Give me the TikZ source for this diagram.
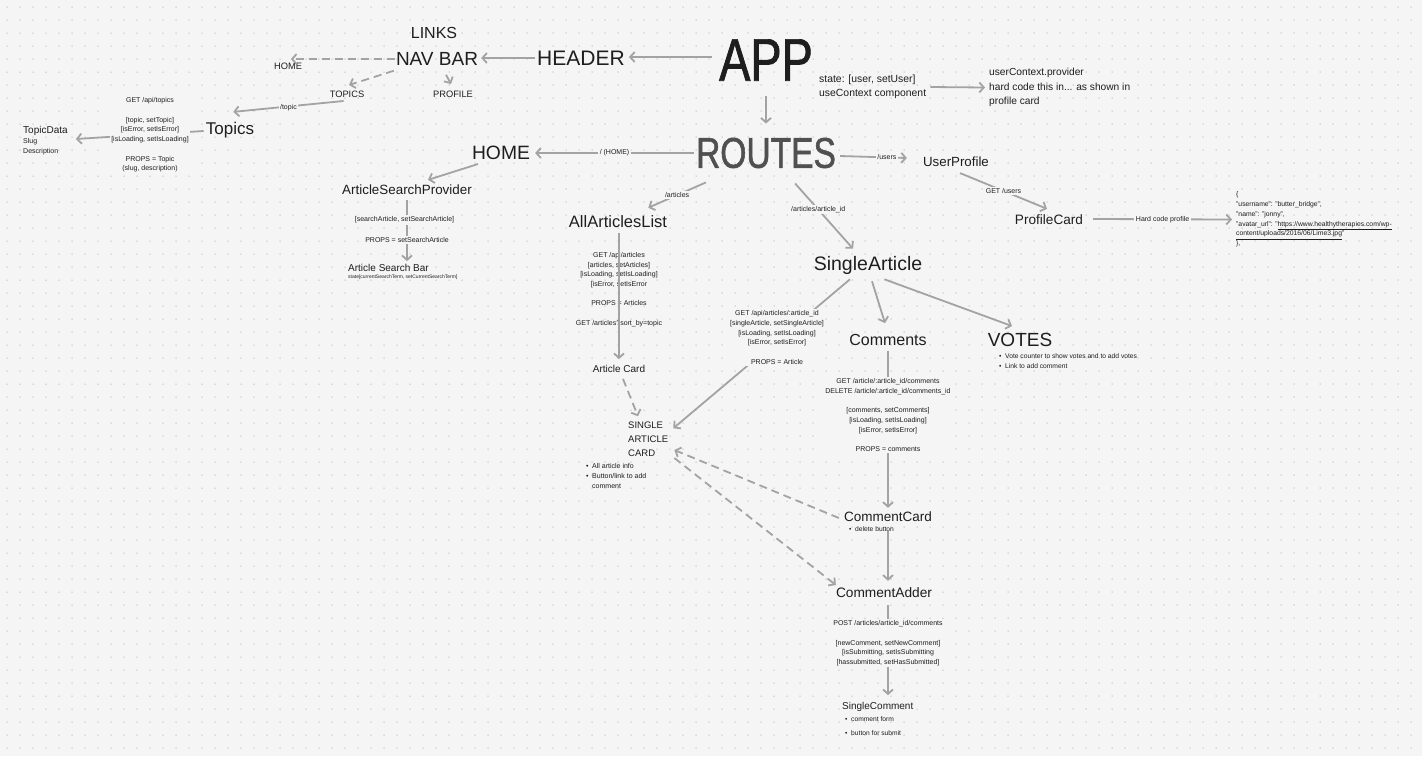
\documentclass[tikz,border=0pt]{standalone}
\usepackage{fontspec}
\setmainfont{Liberation Sans}
\newfontfamily\cond{Liberation Sans}[FakeStretch=0.78,FakeBold=1.2]
\usetikzlibrary{arrows.meta,calc}
\definecolor{bg}{HTML}{F5F5F5}
\definecolor{dotc}{HTML}{C2C2C2}
\definecolor{ln}{HTML}{A3A3A3}
\definecolor{ink}{HTML}{1E1E1E}
\definecolor{routesc}{HTML}{505050}
\newcommand\fs[2]{\fontsize{#1}{#2}\selectfont}
\newcommand\bul{\makebox[6pt][l]{\textbullet}}
\begin{document}
\begin{tikzpicture}[x=1pt,y=-1pt,
  t/.style={inner sep=0pt,text=ink,align=center},
  blk/.style={t,font=\fs{7}{9.7},fill=bg,inner sep=1.5pt},
  lbl/.style={t,font=\fs{7}{7},fill=bg,inner sep=1.5pt},
  arr/.style={draw=ln,line width=1.8pt,-{Straight Barb[length=4.5pt,width=10pt,line width=1.8pt]}},
  dsh/.style={arr,dash pattern=on 8pt off 5pt}
]
\fill[bg] (0,0) rectangle (1422,756);
\useasboundingbox (0,0) rectangle (1422,756);
\foreach \yy in {7,20,...,756}
  \draw[dotc,line width=1.5pt,line cap=round,dash pattern=on 0pt off 13pt] (7,\yy) -- (1422,\yy);

% ---- top nodes
\node[t,font=\cond\fs{60}{60}] (app) at (766,60) {APP};
\node[t,font=\fs{21}{21}] (header) at (581,58) {HEADER};
\node[t,font=\fs{19}{19}] (navbar) at (437,59) {NAV BAR};
\node[t,font=\fs{16}{16}] (links) at (434,33) {LINKS};
\node[t,font=\fs{9.3}{9.3}] (homes) at (288,66.5) {HOME};
\node[t,font=\fs{9.3}{9.3}] (topicss) at (347,94.5) {TOPICS};
\node[t,font=\fs{9.3}{9.3}] (profile) at (453,94.5) {PROFILE};
\node[t,font=\fs{17}{17}] (topics) at (230,130) {Topics};
\node[t,font=\fs{10}{10},anchor=west] (topicdata) at (23,131) {TopicData};
\node[t,font=\fs{7}{7},anchor=west] (slug) at (23,142) {Slug};
\node[t,font=\fs{7}{7},anchor=west] (desc) at (23,152) {Description};

\node[t,font=\fs{10.4}{14},align=left,anchor=west] (state) at (819,87) {state: [user, setUser]\\useContext component};
\node[t,font=\fs{10.2}{14.5},align=left,anchor=west] (uctx) at (989,87.5) {userContext.provider\\hard code this in... as shown in\\profile card};

\draw[arr] ($(app.west)+(-7,-3)$) -- ($(header.east)+(4,-1)$);
\draw[arr] ($(header.west)+(-2,0)$) -- ($(navbar.east)+(3,-1)$);
\draw[dsh] ($(navbar.west)+(-1,0)$) -- ($(homes.north west)+(17,-4)$);
\draw[dsh] ($(navbar.south west)+(-2,5)$) -- ($(topicss.north)+(2,-6)$);
\draw[dsh] ($(navbar.south)+(9,9)$) -- ($(profile.north)+(-2,-7)$);
\draw[arr] ($(topicss.south west)+(14,3)$) -- node[lbl,pos=0.5,yshift=-1.5pt] (ltopic) {/topic} ($(topics.north east)+(-21,-10)$);
\draw[arr] ($(topics.west)+(-2,1)$) -- ($(topicdata.east)+(8,8)$);
\node[blk] (gettopics) at (150,135) {GET /api/topics\\[9.7pt]{}[topic, setTopic]\\{}[isError, setIsError]\\{}[isLoading, setIsLoading]\\[9.7pt]PROPS = Topic\\(slug, description)};
\draw[arr] ($(state.east)+(4,0)$) -- ($(uctx.west)+(-4,0)$);

% ---- routes
\node[t,font=\cond\fs{43}{43},text=routesc] (routes) at (766,153) {ROUTES};
\draw[arr] ($(app.south)+(0,15)$) -- ($(routes.north)+(0,-14)$);
\node[t,font=\fs{19.3}{19.3}] (homeb) at (501,153) {HOME};
\draw[arr] ($(routes.west)+(-2,0)$) -- node[lbl] (lhome) {/ (HOME)} ($(homeb.east)+(5,0)$);

\node[t,font=\fs{13.4}{13.4}] (asp) at (407,190) {ArticleSearchProvider};
\node[t,font=\fs{10}{10},anchor=west] (asb) at (348,268) {Article Search Bar};
\node[t,font=\fs{5}{5},anchor=west] (asbstate) at (348,277) {state[currentSearchTerm, setCurrentSearchTerm]};
\draw[arr] ($(homeb.south)+(-23,4)$) -- ($(asp.north)+(21,-5)$);
\draw[arr] ($(asp.south)+(0,5)$) -- ($(asp.south |- asb.north)+(0,-3)$);
\node[blk] (sa1) at (404.5,220) {[searchArticle, setSearchArticle]};
\node[blk] (props1) at (407,240) {PROPS = setSearchArticle};

% ---- all articles
\node[t,font=\fs{16.5}{16.5}] (all) at (618,222) {AllArticlesList};
\node[t,font=\fs{10}{10}] (acard) at (619,369) {Article Card};
\node[t,font=\fs{7}{9.7}] (allblk) at (619,289.5) {GET /api/articles\\{}[articles, setArticles]\\{}[isLoading, setIsLoading]\\{}[isError, setIsError\\[9.7pt]PROPS = Articles\\[9.7pt]GET /articles?sort\_by=topic};
\draw[arr] ($(routes.south west)+(10,14)$) -- node[lbl] (larts) {/articles} ($(all.north east)+(-19,-8)$);
\draw[arr] ($(all.south)+(1,5)$) -- ($(acard.north)+(0,-6)$);

\node[t,font=\fs{9.5}{14.2},align=left,anchor=west] (sacard) at (628,439) {SINGLE\\ARTICLE\\CARD};
\node[t,font=\fs{7}{10},align=left,anchor=west] (sacardb) at (586,476) {\bul All article info\\\bul Button/link to add\\\makebox[6pt]{}comment};
\draw[dsh] ($(acard.south)+(4,6)$) -- ($(sacard.north west)+(10,-5)$);

% ---- users
\node[t,font=\fs{13.3}{13.3}] (up) at (956,162) {UserProfile};
\node[t,font=\fs{13.6}{13.6}] (pc) at (1049,220) {ProfileCard};
\draw[arr] ($(routes.east)+(4,3)$) -- node[lbl,pos=0.7] (lusers) {/users} ($(up.west)+(-16,-4)$);
\draw[arr] ($(up.south)+(4,6)$) -- node[lbl] (lgu) {GET /users} ($(pc.north)+(-2,-6)$);
\node[t,font=\fs{6.8}{9.8},align=left,anchor=west] (json) at (1236,219.5) {\{\\"username": "butter\_bridge",\\"name": "jonny",\\"avatar\_url": "\underline{https://www.healthytherapies.com/wp-}\\\underline{content/uploads/2016/06/Lime3.jpg}"\\\},};
\draw[arr] ($(pc.east)+(10,-1)$) -- node[lbl] (lhc) {Hard code profile} ($(json.west)+(-4,0)$);

% ---- single article
\node[t,font=\fs{19.5}{19.5}] (sa) at (868,265) {SingleArticle};
\draw[arr] ($(routes.south east)+(-41,15)$) -- node[lbl,pos=0.4] (lsa) {/articles/article\_id} ($(sa.north)+(-15,-7)$);
\node[t,font=\fs{16}{16}] (comments) at (888,340) {Comments};
\node[t,font=\fs{19}{19}] (votes) at (1020,340) {VOTES};
\node[t,font=\fs{6.7}{10},align=left,anchor=west] (votesb) at (999,361) {\bul Vote counter to show votes and to add votes\\\bul Link to add comment};
\draw[arr] ($(sa.south)+(-18,5)$) -- ($(sacard.north east)+(5,7)$);
\node[blk] (sablk) at (777,337.5) {GET /api/articles/:article\_id\\{}[singleArticle, setSingleArticle]\\{}[isLoading, setIsLoading]\\{}[isError, setIsError]\\[9.7pt]PROPS = Article};
\draw[arr] ($(sa.south)+(4,7)$) -- ($(comments.north)+(-3,-11)$);
\draw[arr] ($(sa.south east)+(-38,5)$) -- ($(votes.north)+(-8,-7)$);

% ---- comments
\node[t,font=\fs{13.5}{13.5}] (ccard) at (888,517) {CommentCard};
\node[t,font=\fs{6.7}{6.7},anchor=west] (ccardb) at (849,529) {\bul delete button};
\node[t,font=\fs{13.7}{13.7}] (cadder) at (884,593) {CommentAdder};
\node[t,font=\fs{10}{10},anchor=west] (scom) at (842,707) {SingleComment};
\node[t,font=\fs{6.7}{14.6},align=left,anchor=west] (scomb) at (845,726) {\bul comment form\\\bul button for submit};
\draw[arr] ($(comments.south)+(0,5)$) -- ($(ccard.north)+(0,-4)$);
\node[blk] (cblk) at (888,415) {GET /article/:article\_id/comments\\DELETE /article/:article\_id/comments\_id\\[9.7pt]{}[comments, setComments]\\{}[isLoading, setIsLoading]\\{}[isError, setIsError]\\[9.7pt]PROPS = comments};
\draw[arr] ($(ccard.south)+(0,9)$) -- ($(ccard.south |- cadder.north)+(0,-7)$);
\draw[arr] ($(ccard.south |- cadder.south)+(0,7)$) -- ($(ccard.south |- scom.north)+(0,-7)$);
\node[blk] (ablk) at (888,643.3) {POST /articles/article\_id/comments\\[9.7pt]{}[newComment, setNewComment]\\{}[isSubmitting, setIsSubmitting\\{}[hassubmitted, setHasSubmitted]};
\draw[dsh] ($(ccard.west)+(-5,1)$) -- ($(sacard.east)+(6,11)$);
\draw[dsh] ($(sacard.east)+(6,19)$) -- ($(cadder.west)+(0,-8)$);
\end{tikzpicture}
\end{document}
